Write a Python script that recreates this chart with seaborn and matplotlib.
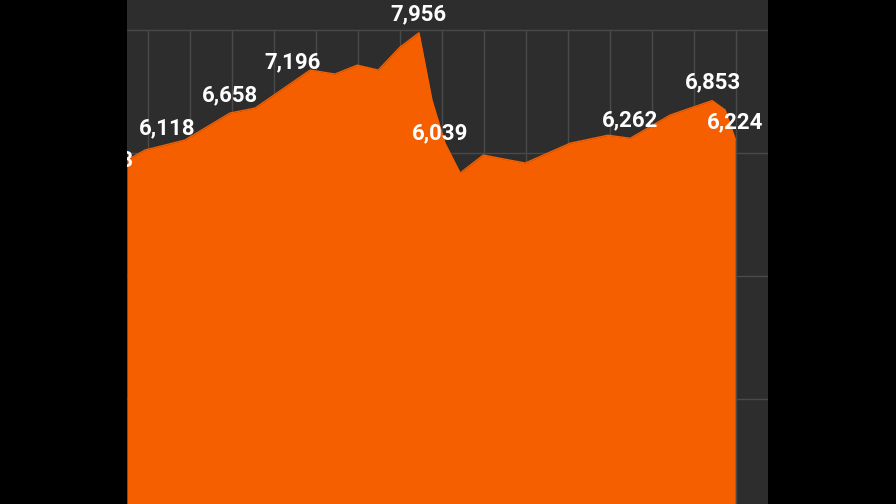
import matplotlib
matplotlib.use("Agg")
import matplotlib.pyplot as plt
import seaborn as sns

# positions along x (gridline units) and values
pos = [-0.5, -0.07, 0.88, 1.95, 2.55, 3.86, 4.45, 4.98, 5.48, 6.0, 6.45, 6.76, 7.07, 7.43, 7.98, 8.98, 10.05, 10.95, 11.48, 12.43, 13.43, 13.74, 13.98]
vals = [5886, 6049, 6211, 6650, 6732, 7350, 7285, 7430, 7350, 7724, 7956, 6860, 6160, 5675, 5967, 5837, 6160, 6290, 6240, 6618, 6853, 6700, 6224]

label_pos = [0.45, 1.95, 3.45, 6.45, 6.95, 11.48, 13.45, 13.98]
label_txt = ["6,118", "6,658", "7,196", "7,956", "6,039", "6,262", "6,853", "6,224"]
label_y = [6406, 6943, 7480, 8260, 6325, 6537, 7155, 6504]

sns.set_style("dark")
plt.rcParams['font.family'] = ['Roboto', 'DejaVu Sans']

fig = plt.figure(figsize=(8.96, 5.04), dpi=100, facecolor="black")
ax = fig.add_axes([127 / 896, 0, (768 - 127) / 896, 1])
ax.set_facecolor("#2d2d2d")

ax.set_xlim(-0.5, 14.76)
ax.set_ylim(290, 8490)

for k in range(15):
    ax.plot([k, k], [0, 8000], color="#4a4a4a", lw=1, zorder=1)
for g in [2000, 4000, 6000, 8000]:
    ax.axhline(g, color="#4a4a4a", lw=1, zorder=1)

sns.lineplot(x=pos, y=vals, ax=ax, color="#f55f00", lw=1, zorder=3)
ax.fill_between(pos, vals, 0, color="#f55f00", lw=0, zorder=2)

for x, y, t in zip(label_pos, label_y, label_txt):
    ax.text(x, y, t, color="white", fontsize=16, fontweight="bold", ha="center", va="center", zorder=4)

# first label sits mostly outside the panel, only its tail shows
ax.text(-0.33, 5886, "5,883", color="white", fontsize=16, fontweight="bold",
        ha="right", va="center", zorder=4, clip_on=True)

ax.set_xticks([])
ax.set_yticks([])
ax.set_xlabel("")
ax.set_ylabel("")
for s in ax.spines.values():
    s.set_visible(False)

fig.savefig("out.png", dpi=100, facecolor="black")
